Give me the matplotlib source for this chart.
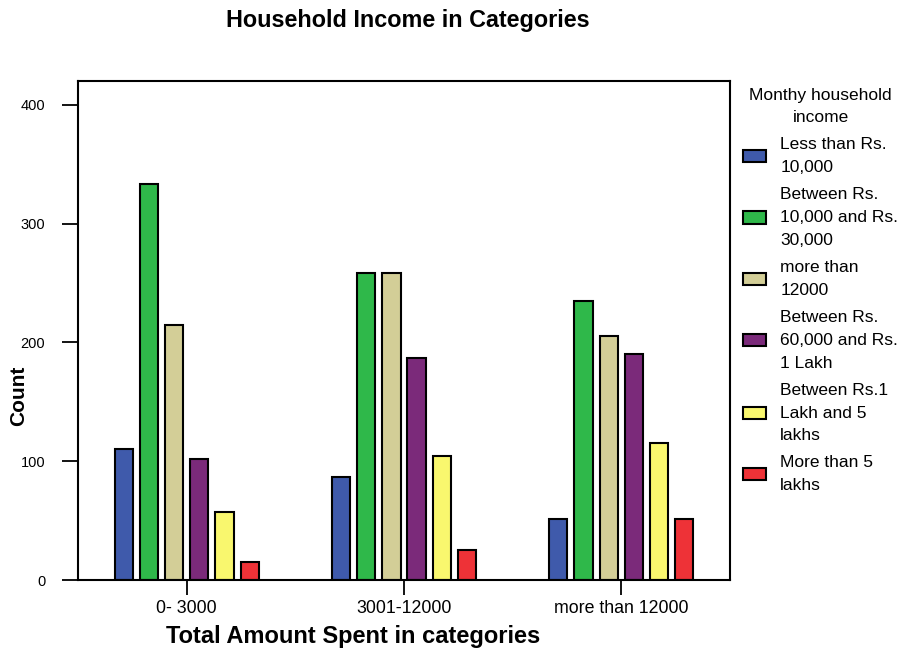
import matplotlib
import numpy as np

matplotlib.use("Agg")
import matplotlib.pyplot as plt  # noqa: E402

plt.rcParams["font.family"] = ["Liberation Sans", "DejaVu Sans"]

# data
spent = ["0- 3000", "3001-12000", "more than 12000"]
income = ["Less than Rs.\n10,000", "Between Rs.\n10,000 and Rs.\n30,000",
          "more than\n12000", "Between Rs.\n60,000 and Rs.\n1 Lakh",
          "Between Rs.1\nLakh and 5\nlakhs", "More than 5\nlakhs"]
less_10k = [110, 87, 51]
btw_10k_30k = [333, 258, 235]
more_12000 = [215, 258, 205]
btw_60k_1lakh = [102, 187, 190]
btw_1_5lakh = [57, 104, 115]
more_5lakh = [15, 25, 51]
counts = [less_10k, btw_10k_30k, more_12000, btw_60k_1lakh, btw_1_5lakh, more_5lakh]
colors = ["#3F5AAB", "#2FB84A", "#D3CE97", "#7B2A7A", "#F9F76E", "#EE3237"]


def main() -> None:
    fig = plt.figure(figsize=(9.08, 6.52), dpi=100)
    ax = fig.add_axes([78 / 908, 72 / 652, 652 / 908, 499 / 652])

    x = np.arange(len(spent))
    step, width = 0.116, 0.084
    for k, (vals, col, lab) in enumerate(zip(counts, colors, income)):
        ax.bar(x + (k - 2.5) * step, vals, width, color=col, edgecolor="black",
               linewidth=1.5, label=lab)

    ax.set_xlim(-0.5, 2.5)
    ax.set_ylim(0, 420)
    ax.set_yticks([0, 100, 200, 300, 400])
    ax.set_xticks(x)
    ax.set_xticklabels(spent, fontsize=12.8)
    ax.tick_params(axis="y", length=11.5, width=1.3, pad=12, labelsize=10.5)
    ax.tick_params(axis="x", length=10.5, width=1.3, pad=4)
    for s in ax.spines.values():
        s.set_linewidth(1.5)

    fig.text(408 / 908, 1 - 20 / 652, "Household Income in Categories",
             ha="center", va="center", fontsize=16.8, fontweight="bold")
    fig.text(353 / 908, 1 - 637 / 652, "Total Amount Spent in categories",
             ha="center", va="center", fontsize=17, fontweight="bold")
    fig.text(19 / 908, 1 - 396 / 652, "Count", rotation=90,
             ha="center", va="center", fontsize=15, fontweight="bold")

    leg = fig.legend(loc="upper left", bbox_to_anchor=(736 / 908, 1 - 81 / 652),
                     frameon=False, fontsize=12.5, title="Monthy household\nincome",
                     title_fontsize=12.5, handlelength=1.3, handleheight=0.7,
                     handletextpad=0.85, labelspacing=0.7, borderaxespad=0)
    for t in leg.get_texts():
        t.set_linespacing(1.65)
    title = leg.get_title()
    title.set_linespacing(1.6)
    title.set_multialignment("center")

    fig.savefig("out.png", dpi=100)


if __name__ == "__main__":
    main()
